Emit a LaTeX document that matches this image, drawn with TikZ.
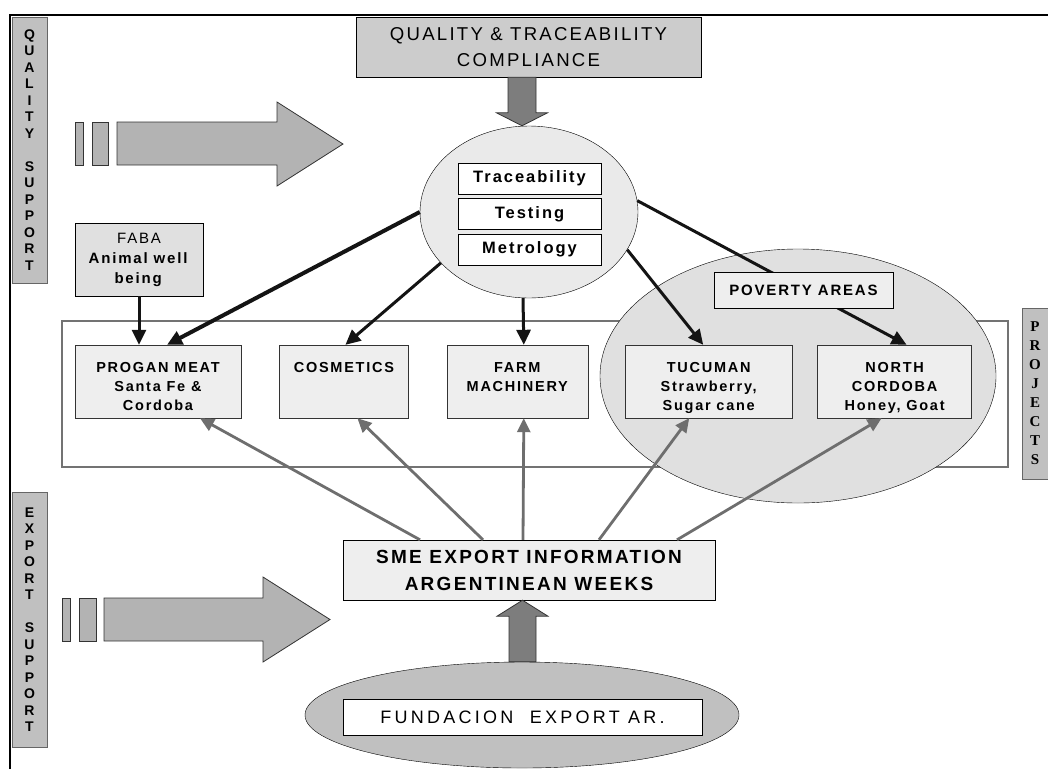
\documentclass[tikz,border=0pt]{standalone}
\usepackage{fontspec}
\setmainfont{Liberation Sans}[LetterSpace=12]
\newfontfamily\widefont{Liberation Sans}[LetterSpace=18]
\newfontfamily\barfont{Liberation Sans}
\newfontfamily\serifbar{Liberation Serif}
\usepackage{tikz}
\usetikzlibrary{
    arrows.meta,
    positioning,
    calc,
    shapes.geometric
}
\definecolor{barGray}{RGB}{192,192,192}
\definecolor{qtGray}{RGB}{204,204,204}
\definecolor{fatLight}{RGB}{179,179,179}
\definecolor{fatDark}{RGB}{125,125,125}
\definecolor{hubGray}{RGB}{234,234,234}
\definecolor{fabaGray}{RGB}{224,224,224}
\definecolor{boxGray}{RGB}{238,238,238}
\definecolor{povGray}{RGB}{224,224,224}
\definecolor{fundGray}{RGB}{192,192,192}
\definecolor{arrGray}{RGB}{110,110,110}
\definecolor{lineBlack}{RGB}{20,20,20}
\newcommand{\ptext}[2]{\parbox[c][73pt][t]{#1}{\centering\rule{0pt}{27pt}#2}}
\tikzset{
  sidebar/.style = {draw=black!60, fill=barGray, inner sep=0pt, align=center,
                    font=\barfont\fontsize{14}{16.5}\selectfont\bfseries},
  qtbox/.style   = {draw, fill=qtGray, minimum width=345pt, minimum height=60pt,
                    inner sep=0pt, align=center,
                    font=\fontsize{18.6}{26.7}\selectfont},
  hubbox/.style  = {draw, fill=white, minimum width=143pt, minimum height=31pt,
                    inner sep=0pt, font=\bfseries\fontsize{16.5}{19}\selectfont},
  pbox/.style    = {draw=black!80, fill=boxGray, inner sep=0pt,
                    font=\bfseries\fontsize{14.5}{19}\selectfont},
  fatlight/.style = {draw=black!80, fill=fatLight, line width=0.8pt},
  fatdark/.style  = {draw=black!80, fill=fatDark, line width=0.8pt},
  blkarr/.style  = {-{Triangle[length=15pt,width=14pt]}, line width=3pt, lineBlack},
  grarr/.style   = {-{Triangle[length=14pt,width=13pt]}, line width=2.8pt, arrGray}
}

\begin{document}
\begin{tikzpicture}[x=1pt, y=-1pt,
        hub/.style={ellipse, draw, fill=hubGray, minimum width=218pt,
                    minimum height=172pt, inner sep=0pt},
        povzone/.style={ellipse, draw, fill=povGray, minimum width=396pt,
                    minimum height=254pt, inner sep=0pt},
        fundzone/.style={ellipse, draw, fill=fundGray, minimum width=434pt,
                    minimum height=106pt, inner sep=0pt}
      ]
        \useasboundingbox (0,0) rectangle (1048,769);
        \draw[line width=1.6pt] (10,769) -- (10,15) -- (1048,15);

        % ── SIDE BARS ──
        \node[sidebar, minimum width=35pt, minimum height=266pt] (qsup) at (29.5,150)
          {Q\\U\\A\\L\\I\\T\\Y\\[16.5pt]S\\U\\P\\P\\O\\R\\T};
        \node[sidebar, minimum width=35pt, minimum height=255pt] (esup) at (29.5,619.5)
          {E\\X\\P\\O\\R\\T\\[16.5pt]S\\U\\P\\P\\O\\R\\T};
        \node[sidebar, minimum width=26pt, minimum height=171pt,
              font=\serifbar\fontsize{15}{19}\selectfont\bfseries] (pside) at (1035,393.5)
          {P\\R\\O\\J\\E\\C\\T\\S};

        % ── BIG ARROWS ──
        \draw[fatlight] (75,122) rectangle (83,165);
        \draw[fatlight] (92,122) rectangle (108,165);
        \draw[fatlight] (117,122) -- (277,122) -- (277,102) -- (343,144)
          -- (277,186) -- (277,165) -- (117,165) -- cycle;
        \draw[fatlight] (62,598) rectangle (70,641);
        \draw[fatlight] (79,598) rectangle (96,641);
        \draw[fatlight] (104,598) -- (263,598) -- (263,577) -- (330,619.5)
          -- (263,662) -- (263,641) -- (104,641) -- cycle;

        % ── QUALITY HUB ──
        \node[qtbox] (qtc) at (528.5,47) {QUALITY \& TRACEABILITY\\COMPLIANCE};
        \node[hub] (hub) at (529,212) {};
        \coordinate (dtip) at ($(hub.north)+(-7,0)$);
        \coordinate (dtop) at (dtip |- qtc.south);
        \draw[fatdark] ($(dtop)+(-14,0)$) -- ($(dtop)+(14,0)$) -- ($(dtip)+(14,-13)$)
          -- ($(dtip)+(25.5,-13)$) -- (dtip) -- ($(dtip)+(-25.5,-13)$)
          -- ($(dtip)+(-14,-13)$) -- cycle;
        \node[hubbox] (trace) at (529.5,178.5) {Traceability};
        \node[hubbox, below=4pt of trace] (testing) {Testing};
        \node[hubbox, below=4pt of testing] (metro) {Metrology};

        % ── PROJECTS ──
        \node[draw=black!55, line width=1.2pt, minimum width=946pt, minimum height=146pt,
              inner sep=0pt] (projs) at (535,394) {};
        \node[povzone] (pov) at (798,376) {};
        \node[pbox] (progan) at (158,381.5)
          {\ptext{166pt}{PROGAN MEAT\\Santa Fe \&\\Cordoba}};
        \node[pbox, right=38pt of progan] (cosm) {\ptext{129pt}{COSMETICS}};
        \node[pbox, right=38pt of cosm] (farm) {\ptext{141pt}{FARM\\MACHINERY}};
        \node[pbox, right=37pt of farm] (tuc)
          {\ptext{167pt}{TUCUMAN\\Strawberry,\\Sugar cane}};
        \node[pbox, right=25pt of tuc] (ncor)
          {\ptext{154pt}{NORTH\\CORDOBA\\Honey, Goat}};

        \draw[blkarr] (hub.6) -- ([xshift=12pt]ncor.north);
        \node[draw, fill=boxGray, minimum width=179pt, minimum height=36pt, inner sep=0pt,
              font=\bfseries\fontsize{15}{18}\selectfont] (povlbl) at (803.5,290)
          {POVERTY AREAS};
        \node[draw, fill=fabaGray, minimum width=128pt, minimum height=73pt, inner sep=0pt,
              align=center, font=\fontsize{15}{20}\selectfont] (faba) at (139,259.5)
          {FABA\\\textbf{Animal well}\\\textbf{being}};

        \draw[blkarr] (faba.south) -- (faba.south |- progan.north);
        \draw[blkarr, line width=4pt] (hub.180) -- ([xshift=9pt]progan.north);
        \draw[blkarr] (hub.-150) -- ([xshift=1.5pt]cosm.north);
        \draw[blkarr] ([xshift=-6pt]hub.south) -- ([xshift=6.5pt]farm.north);
        \draw[blkarr] (hub.-21) -- ([xshift=-5.5pt]tuc.north);

        % ── EXPORT SUPPORT ──
        \node[draw, fill=boxGray, minimum width=372pt, minimum height=60pt, inner sep=0pt,
              align=center, font=\bfseries\fontsize{19}{27}\selectfont] (sme) at (529,570)
          {SME EXPORT INFORMATION\\ARGENTINEAN WEEKS};
        \draw[grarr] ([xshift=-109pt]sme.north) -- ([xshift=42pt]progan.south);
        \draw[grarr] ([xshift=-46pt]sme.north) -- ([xshift=13.5pt]cosm.south);
        \draw[grarr] ([xshift=-6pt]sme.north) -- ([xshift=6.5pt]farm.south);
        \draw[grarr] ([xshift=70pt]sme.north) -- ([xshift=-19.5pt]tuc.south);
        \draw[grarr] ([xshift=148pt]sme.north) -- ([xshift=-13pt]ncor.south);

        \node[fundzone] (fundz) at (522,715) {};
        \node[draw, fill=white, minimum width=359pt, minimum height=36pt, inner sep=0pt,
              font=\widefont\fontsize{18}{22}\selectfont] (fund) at (522.5,717)
          {FUNDACION~ EXPORT AR.};
        \coordinate (utip) at ($(sme.south)+(-6.5,0)$);
        \coordinate (ubot) at (utip |- fundz.north);
        \draw[fatdark] ($(ubot)+(-13.5,0)$) -- ($(ubot)+(13.5,0)$) -- ($(utip)+(13.5,16)$)
          -- ($(utip)+(25.5,16)$) -- (utip) -- ($(utip)+(-25.5,16)$)
          -- ($(utip)+(-13.5,16)$) -- cycle;
      \end{tikzpicture}
\end{document}
